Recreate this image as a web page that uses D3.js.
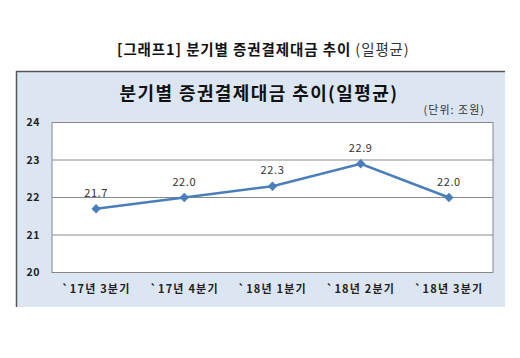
<!DOCTYPE html>
<html><head><meta charset="utf-8">
<script src="https://cdn.jsdelivr.net/npm/d3@7"></script>
<style>body{margin:0;background:#fff;}svg{display:block;}</style>
</head><body>
<svg id="c" width="520" height="358"></svg>
<script>
const categories = ["`17년 3분기","`17년 4분기","`18년 1분기","`18년 2분기","`18년 3분기"];
const values = [21.7, 22.0, 22.3, 22.9, 22.0];
const yTicks = [20, 21, 22, 23, 24];
const labels = ["21.7","22.0","22.3","22.9","22.0"];

const svg = d3.select("#c");
const font = "'Noto Sans CJK KR', 'Noto Sans', sans-serif";

// caption
const cap = svg.append("text").attr("x", 117).attr("y", 55).attr("font-family", font).attr("font-size", 14.5)
  .attr("letter-spacing", 0.9).attr("fill", "#111");
cap.append("tspan").attr("font-weight", "bold").text("[그래프1] 분기별  증권결제대금  추이 ");
cap.append("tspan").attr("font-weight", "normal").attr("fill","#333").text("(일평균)");

// frame
svg.append("rect").attr("x", 16).attr("y", 71).attr("width", 489).attr("height", 236).attr("fill", "#dce6f2");
svg.append("line").attr("x1", 16).attr("x2", 505).attr("y1", 71.5).attr("y2", 71.5).attr("stroke", "#555").attr("stroke-width", 1.5);
svg.append("line").attr("x1", 16.5).attr("x2", 16.5).attr("y1", 71).attr("y2", 307).attr("stroke", "#555").attr("stroke-width", 1.5);

svg.append("text").attr("x", 259).attr("y", 100).attr("text-anchor", "middle").attr("font-family", font)
  .attr("font-size", 18).attr("letter-spacing", 1.4).attr("font-weight", "bold").attr("fill", "#111").text("분기별 증권결제대금 추이(일평균)");
svg.append("text").attr("x", 485).attr("y", 114).attr("text-anchor", "end").attr("font-family", font)
  .attr("font-size", 11).attr("letter-spacing", 1).attr("fill", "#333").text("(단위: 조원)");

const x = d3.scaleBand().domain(categories).range([52, 493]);
const y = d3.scaleLinear().domain([20, 24]).range([272.5, 122.5]);

svg.append("rect").attr("x", 52).attr("y", y(24)).attr("width", 441).attr("height", y(20) - y(24))
  .attr("fill", "#fff").attr("stroke", "#888").attr("stroke-width", 1);

const g = svg.append("g");
g.selectAll("line.grid").data(yTicks.slice(1, -1)).enter().append("line")
  .attr("x1", 52).attr("x2", 493).attr("y1", d => y(d)).attr("y2", d => y(d))
  .attr("stroke", "#8a8a8a").attr("stroke-width", 1);

const yAxis = svg.append("g").attr("transform", "translate(52,0)")
  .call(d3.axisLeft(y).tickValues(yTicks).tickSize(0).tickPadding(12).tickFormat(d3.format("d")));
yAxis.select(".domain").remove();
yAxis.selectAll("text").attr("font-family", font).attr("font-size", 10.5).attr("letter-spacing", 0.5).attr("font-weight", "bold").attr("fill", "#222");

const xAxis = svg.append("g").attr("transform", `translate(0,${y(20)})`)
  .call(d3.axisBottom(x).tickSize(0).tickPadding(13));
xAxis.select(".domain").remove();
xAxis.selectAll("text").attr("font-family", font).attr("font-size", 11).attr("letter-spacing", 1.2).attr("font-weight", "bold").attr("fill", "#222");

const cx = d => x(d) + x.bandwidth() / 2;
const line = d3.line().x((d, i) => cx(categories[i])).y(d => y(d));
svg.append("path").datum(values).attr("d", line).attr("fill", "none").attr("stroke", "#4a7ebb").attr("stroke-width", 2.5);

svg.selectAll("path.mk").data(values).enter().append("path")
  .attr("d", d3.symbol().type(d3.symbolDiamond2).size(55))
  .attr("transform", (d, i) => `translate(${cx(categories[i])},${y(d)})`)
  .attr("fill", "#4a7ebb");

svg.selectAll("text.lbl").data(values).enter().append("text")
  .attr("x", (d, i) => cx(categories[i])).attr("y", d => y(d) - 12)
  .attr("text-anchor", "middle").attr("font-family", font).attr("font-size", 11).attr("letter-spacing", 0.6).attr("fill", "#333")
  .text((d, i) => labels[i]);
</script>
</body></html>
